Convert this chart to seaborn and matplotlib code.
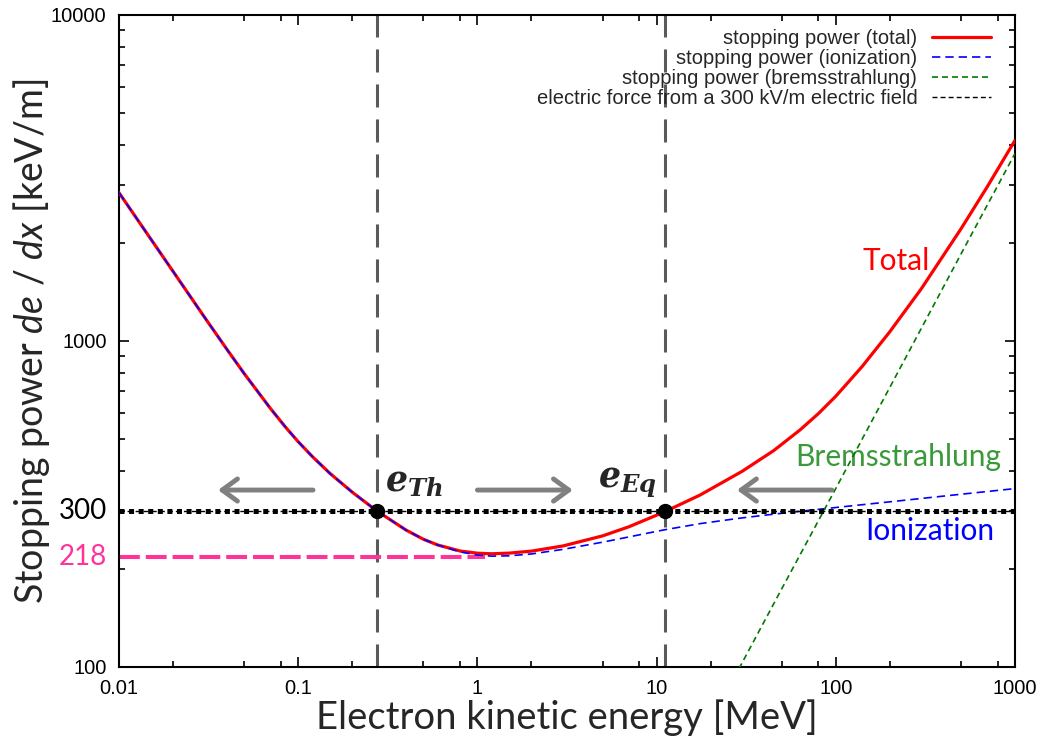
import numpy as np
import pandas as pd
import matplotlib
matplotlib.use("Agg")
import matplotlib.pyplot as plt
import seaborn as sns
from matplotlib.ticker import FixedLocator, FixedFormatter, NullFormatter

# Electron stopping power in air [keV/m] versus kinetic energy [MeV]
energy = [0.01, 0.015, 0.02, 0.03, 0.04, 0.05, 0.07, 0.085, 0.1, 0.12, 0.15,
          0.2, 0.275, 0.4, 0.5, 0.6, 0.8, 1.0, 1.2, 1.5, 2, 3, 5, 7, 11, 17.5,
          30, 45, 63, 80, 100, 140, 200, 300, 500, 700, 1000]
total = [2850, 2060, 1637, 1183, 943, 794, 621, 544, 491, 442, 393,
         344, 301, 263, 246.5, 236.8, 226.9, 223.4, 222.5, 223.5, 226.7, 235.1,
         252.5, 269.2, 298.7, 337, 398.3, 461, 533, 599, 677, 834, 1067, 1446,
         2210, 2972, 4126]
ionization = [2850, 2060, 1637, 1183, 943, 794, 621, 544, 491, 442, 393,
              344, 301, 263, 246.5, 236.8, 225.5, 220.5, 218.8, 219.3, 222.2,
              229.5, 241.5, 250.6, 263.4, 275.3, 286.7, 294.3, 300.3, 304.5,
              308.5, 314.6, 321.1, 328.8, 338.8, 345.4, 352.6]
brems_energy = [20, 30, 50, 100, 200, 500, 1000]
bremsstrahlung = [68, 103, 174, 353, 720, 1850, 3760]

field_force = 300          # keV/m, electric force from a 300 kV/m field
min_stopping = 218         # keV/m, minimum of the total stopping power
min_energy = 1.1           # MeV, where the minimum is reached
threshold_energy = 0.275   # MeV, e_Th
equilibrium_energy = 11.1  # MeV, e_Eq

x_ticks = [0.01, 0.1, 1, 10, 100, 1000]
x_tick_labels = ["0.01", "0.1", "1", "10", "100", "1000"]
y_ticks = [100, 1000, 10000]
y_tick_labels = ["100", "1000", "10000"]

sns.set_theme(style="ticks")
plt.rcParams["font.family"] = ["Liberation Sans", "DejaVu Sans"]
plt.rcParams["mathtext.fontset"] = "custom"
plt.rcParams["mathtext.rm"] = "Lato"
plt.rcParams["mathtext.it"] = "Lato:italic"
plt.rcParams["mathtext.bf"] = "Lato:bold"
plt.rcParams["lines.scale_dashes"] = False

fig = plt.figure(figsize=(10.43, 7.48), dpi=100)
fig.patch.set_facecolor("white")
ax = fig.add_axes([119 / 1043, 1 - 667 / 748, 896 / 1043, 652 / 748])
ax.set_facecolor("white")

df = pd.DataFrame({"energy": energy, "total": total, "ionization": ionization})
df_b = pd.DataFrame({"energy": brems_energy, "bremsstrahlung": bremsstrahlung})

sns.lineplot(data=df, x="energy", y="total", ax=ax, color="#FF0000",
             linewidth=2.3, sort=False, estimator=None, zorder=3,
             label="stopping power (total)")
line_total = ax.lines[-1]
sns.lineplot(data=df, x="energy", y="ionization", ax=ax, color="#0000FF",
             linewidth=1.2, sort=False, estimator=None, zorder=4,
             label="stopping power (ionization)")
line_ion = ax.lines[-1]
line_ion.set_dashes((6, 3.6))
sns.lineplot(data=df_b, x="energy", y="bremsstrahlung", ax=ax, color="#007A00",
             linewidth=1.2, sort=False, estimator=None, zorder=4,
             label="stopping power (bremsstrahlung)")
line_brems = ax.lines[-1]
line_brems.set_dashes((4.3, 2.9))

ax.set_xscale("log")
ax.set_yscale("log")
ax.set_xlim(0.01, 1000)
ax.set_ylim(100, 10000)

# 300 kV/m electric force: thin dashed line with square dots on top
line_field = ax.axhline(field_force, color="black", linewidth=1.0,
                        dashes=(3.6, 2.2), zorder=5,
                        label="electric force from a 300 kV/m electric field")
ax.axhline(field_force, color="black", linewidth=3.6, dashes=(3.6, 3.3),
           solid_capstyle="butt", dash_capstyle="butt", zorder=5)

# minimum stopping power
ax.plot([0.01, min_energy], [min_stopping, min_stopping], color="#FF3399",
        linewidth=2.9, dashes=(15, 4.3), dash_capstyle="butt", zorder=2)

# e_Th and e_Eq markers
for e in (threshold_energy, equilibrium_energy):
    ax.axvline(e, color="#5A5A5A", linewidth=2.2, dashes=(16.6, 8.6),
               dash_capstyle="butt", zorder=1)
ax.plot([threshold_energy, equilibrium_energy], [field_force, field_force],
        "o", color="black", markersize=10, zorder=6)

arrow_kw = dict(arrowstyle="->,head_length=1.1,head_width=0.8", lw=3.5,
                color="#808080", shrinkA=0, shrinkB=0, mutation_scale=10)
for start, end in ((0.121, 0.0357), (1.0, 3.41), (95, 28.1)):
    ax.annotate("", xy=(end, 349), xytext=(start, 349), arrowprops=arrow_kw,
                zorder=6)

ax.text(0.305, 347, r"$\mathbfit{e}_{\mathbfit{Th}}$", fontsize=25,
        math_fontfamily="dejavuserif", ha="left", va="baseline", zorder=7)
ax.text(4.71, 357, r"$\mathbfit{e}_{\mathbfit{Eq}}$", fontsize=25,
        math_fontfamily="dejavuserif", ha="left", va="baseline", zorder=7)

ax.text(217, 1650, "Total", color="#FF0000", fontsize=21.5, family="Lato",
        ha="center", va="baseline")
ax.text(59.2, 414, "Bremsstrahlung", color="#3A9A3A", fontsize=21.5,
        family="Lato", ha="left", va="baseline")
ax.text(145.5, 245, "Ionization", color="#0000FF", fontsize=21.5,
        family="Lato", ha="left", va="baseline")

ytr = ax.get_yaxis_transform()
ax.text(-0.0134, field_force, "300", transform=ytr, color="black",
        fontsize=20, family="Lato", ha="right", va="center")
ax.text(-0.0134, min_stopping, "218", transform=ytr, color="#FF3399",
        fontsize=20, family="Lato", ha="right", va="center")

# axes, ticks
ax.xaxis.set_major_locator(FixedLocator(x_ticks))
ax.xaxis.set_major_formatter(FixedFormatter(x_tick_labels))
ax.xaxis.set_minor_locator(FixedLocator(
    [m * 10.0 ** k for k in range(-2, 3) for m in (2, 5, 8)]))
ax.xaxis.set_minor_formatter(NullFormatter())
ax.yaxis.set_major_locator(FixedLocator(y_ticks))
ax.yaxis.set_major_formatter(FixedFormatter(y_tick_labels))
ax.yaxis.set_minor_locator(FixedLocator(
    [m * 10.0 ** k for k in (2, 3) for m in range(2, 10)]))
ax.yaxis.set_minor_formatter(NullFormatter())
ax.tick_params(which="both", direction="in", top=True, right=True,
               width=1.2, colors="black", labelsize=14.5)
ax.tick_params(which="major", length=7, pad=9)
ax.tick_params(which="minor", length=4)
for s in ax.spines.values():
    s.set_linewidth(1.5)
    s.set_color("black")
    s.set_visible(True)

ax.set_xlabel("Electron kinetic energy [MeV]", fontsize=27.5, family="Lato")
ax.xaxis.set_label_coords(0.5, -0.05)
ax.set_ylabel(r"Stopping power $\mathit{de}$ / $\mathit{dx}$ [keV/m]",
              fontsize=27, family="Lato")
ax.yaxis.set_label_coords(-0.075, 0.5)

leg = ax.legend(handles=[line_total, line_ion, line_brems, line_field],
                labels=["stopping power (total)", "stopping power (ionization)",
                        "stopping power (bremsstrahlung)",
                        "electric force from a 300 kV/m electric field"],
                loc="upper right", bbox_to_anchor=(0.973, 0.979),
                frameon=False, markerfirst=False, handlelength=2.9,
                handletextpad=0.75, labelspacing=0.05, borderaxespad=0,
                borderpad=0, fontsize=14.5)

fig.savefig("out.png", dpi=100, facecolor="white")
